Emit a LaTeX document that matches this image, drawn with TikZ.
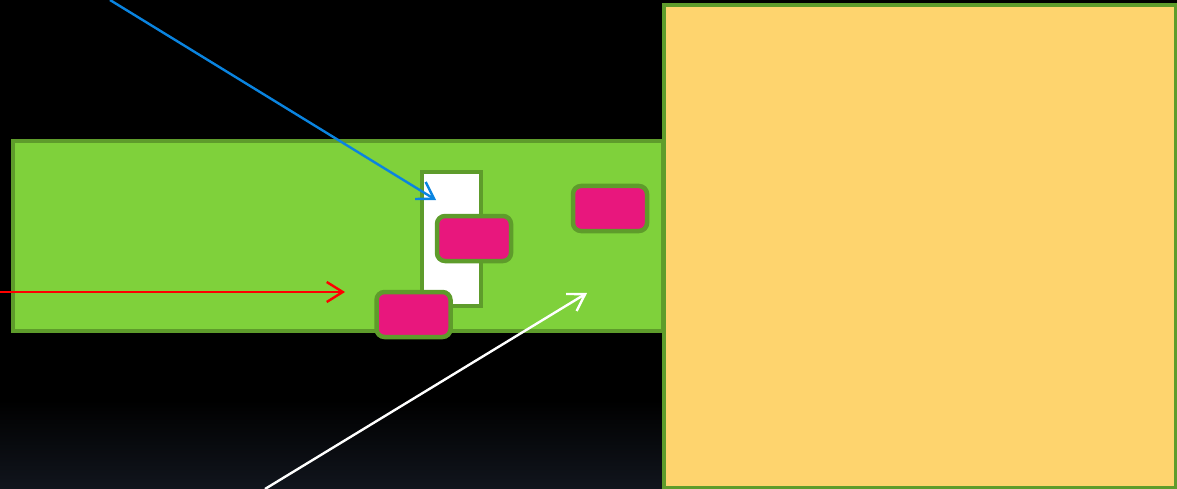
\documentclass[tikz,border=0pt]{standalone}
\usetikzlibrary{arrows.meta}
\definecolor{bggrad}{HTML}{11151D}
\definecolor{barfill}{HTML}{7FD13B}
\definecolor{barline}{HTML}{5E9C2B}
\definecolor{yellowfill}{HTML}{FED46E}
\definecolor{pinkfill}{HTML}{E8177D}
\definecolor{bluearrow}{HTML}{0A84E0}
\begin{document}
\begin{tikzpicture}[x=1pt,y=-1pt,
  box/.style={draw=barline,line width=3.5pt},
  padbox/.style={draw=barline,fill=pinkfill,line width=4.5pt,rounded corners=8pt},
  arr/.style={line width=2.4pt,-{Straight Barb[length=16pt,width=20pt,line width=2.4pt]}}]
\fill[black] (0,0) rectangle (1177,489);
\shade[top color=black,bottom color=bggrad] (0,400) rectangle (1177,489);
\useasboundingbox (0,0) rectangle (1177,489);
\draw[box,fill=barfill] (13,141) rectangle (663,331);
\draw[box,fill=white] (422,172) rectangle (481,306);
\draw[box,fill=yellowfill] (664,5) rectangle (1176,488);
\node[padbox,minimum width=74pt,minimum height=45pt,inner sep=0pt] (p1) at (474,238.5) {};
\node[padbox,minimum width=74pt,minimum height=45pt,inner sep=0pt] (p2) at (413.5,314.5) {};
\node[padbox,minimum width=74pt,minimum height=45pt,inner sep=0pt] (p3) at (610,208.5) {};
\coordinate (bs) at (110,0);
\coordinate (be) at (436,200);
\coordinate (rs) at (0,292);
\coordinate (re) at (345,292);
\coordinate (ws) at (265,489);
\coordinate (we) at (587,293);
\draw[arr,bluearrow] (bs) -- (be);
\draw[arr,red] (rs) -- (re);
\draw[arr,white] (ws) -- (we);
\end{tikzpicture}
\end{document}
